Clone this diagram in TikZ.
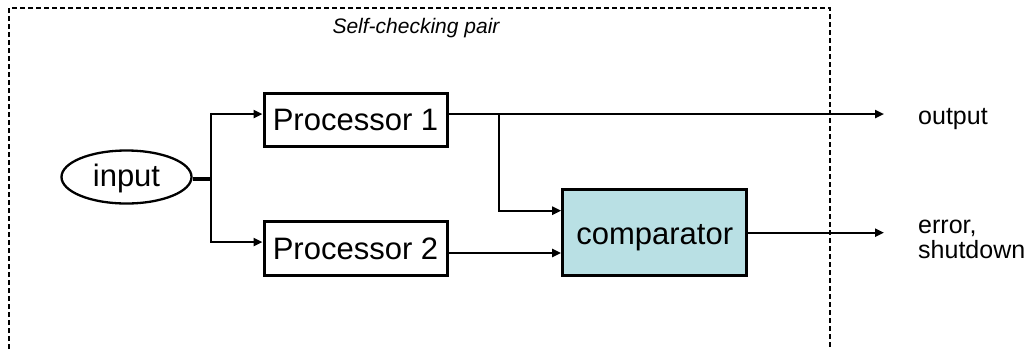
\documentclass[tikz,border=0pt]{standalone}
\usepackage{fontspec}
\setmainfont{Liberation Sans}
\usetikzlibrary{arrows.meta,shapes.geometric}
\definecolor{compfill}{RGB}{185,224,228}
\tikzset{
  blk/.style={draw=black, line width=3pt, rectangle, inner sep=0pt, font=\fontsize{31}{36}\selectfont},
  conn/.style={line width=2.3pt, line cap=butt},
  arr/.style={conn, -{Triangle[length=9pt,width=8pt]}},
  lbl/.style={inner sep=0pt, anchor=base west, font=\fontsize{25}{24}\selectfont},
}
\begin{document}
\begin{tikzpicture}[x=1pt,y=-1pt]
\useasboundingbox (0,0) rectangle (1027,349);
% dashed enclosure (bottom beyond the picture)
\draw[line width=1.2pt, dash pattern=on 5pt off 3pt] (9,349) -- (9,8) -- (830,8) -- (830,349);
\node[inner sep=0pt, anchor=base, font=\fontsize{21}{24}\selectfont\itshape] (title) at (416,33) {Self-checking pair};

\node[draw=black, line width=2.3pt, ellipse, minimum width=130pt, minimum height=53pt, inner sep=0pt, text height=24pt, text depth=4.6pt, font=\fontsize{31}{36}\selectfont] (input) at (126.5,177) {input};
\node[blk, minimum width=183pt, minimum height=53pt, text height=24pt, text depth=1.6pt] (p1) at (355.5,119.5) {Processor 1};
\node[blk, minimum width=183pt, minimum height=54pt, text height=24pt, text depth=1.6pt] (p2) at (355.5,248) {Processor 2};
\node[blk, fill=compfill, minimum width=184pt, minimum height=86pt, text height=28pt, text depth=4pt] (comp) at (654.7,232) {comparator};

\node[lbl] (out) at (918,124) {output};
\node[lbl] (err) at (918,233) {\begin{tabular}[t]{@{}l@{}}error,\\shutdown\end{tabular}};

\coordinate (split) at (211,179);
\coordinate (tap) at (499,114);
\coordinate (outEnd) at (884,114);
\coordinate (errEnd) at (884,232.7);

\draw[line width=4.5pt] (input.east |- split) -- (split);
\draw[conn] (split |- 0,112.9) -- (split |- 0,243.1);
\draw[arr] (split |- 0,114) -- (p1.west |- 0,114);
\draw[arr] (split |- 0,242) -- (p2.west |- 0,242);
\draw[arr] (p1.east |- tap) -- (outEnd);
\draw[arr] (tap) -- (tap |- 0,210.7) -- (comp.west |- 0,210.7);
\draw[arr] (p2.east |- 0,253) -- (comp.west |- 0,253);
\draw[arr] (comp.east |- errEnd) -- (errEnd);
\end{tikzpicture}
\end{document}
